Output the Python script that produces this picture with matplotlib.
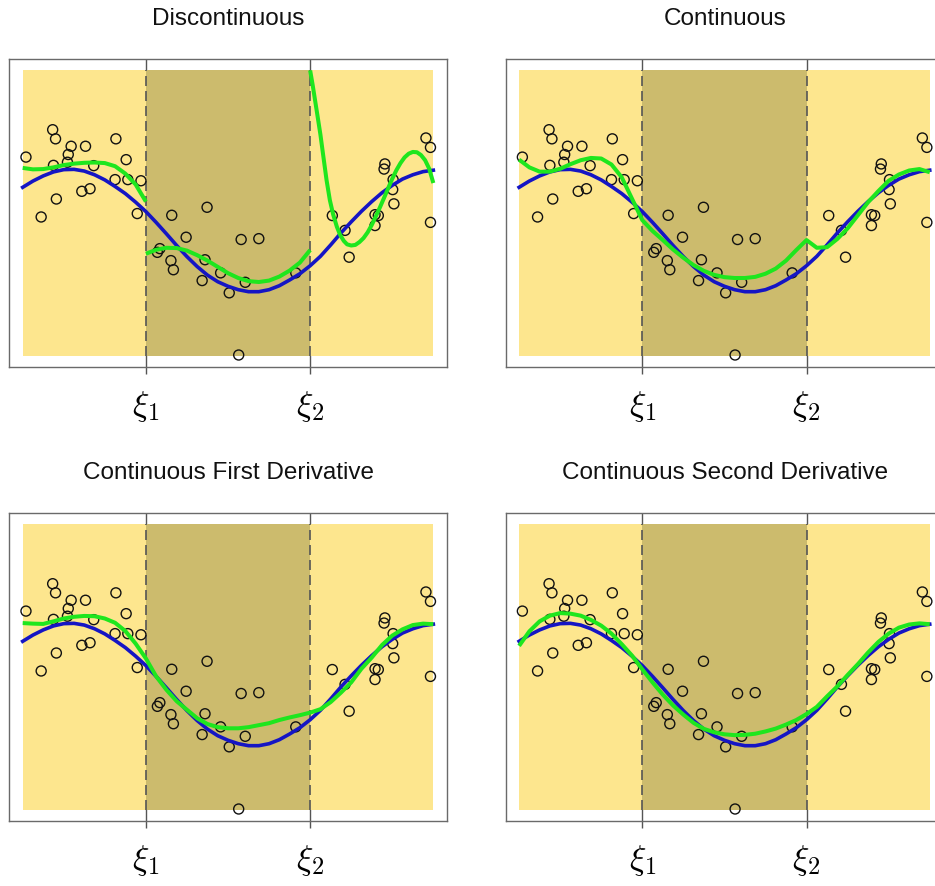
import matplotlib
matplotlib.use("Agg")
import matplotlib.pyplot as plt
from matplotlib.patches import Rectangle

plt.rcParams['mathtext.fontset'] = 'cm'

# ---------------- data ----------------
titles = ["Discontinuous", "Continuous",
          "Continuous First Derivative", "Continuous Second Derivative"]
knots = [0.3, 0.7]
knot_labels = [r"$\xi_1$", r"$\xi_2$"]

pts_x = [0.008, 0.045, 0.073, 0.080, 0.075, 0.082, 0.111, 0.109, 0.118, 0.153,
         0.173, 0.144, 0.164, 0.227, 0.252, 0.225, 0.256, 0.288, 0.279,
         0.334, 0.328, 0.363, 0.361, 0.367, 0.398, 0.449, 0.444, 0.437, 0.482,
         0.503, 0.532, 0.575, 0.542, 0.665, 0.526,
         0.754, 0.785, 0.795, 0.858, 0.866, 0.858, 0.882, 0.880, 0.902, 0.901,
         0.904, 0.982, 0.993, 0.993]
pts_y = [0.696, 0.486, 0.792, 0.760, 0.667, 0.549, 0.705, 0.678, 0.734, 0.734,
         0.666, 0.576, 0.585, 0.760, 0.687, 0.617, 0.617, 0.613, 0.498,
         0.375, 0.362, 0.492, 0.333, 0.301, 0.415, 0.520, 0.336, 0.263, 0.290,
         0.220, 0.407, 0.410, 0.257, 0.290, 0.002,
         0.491, 0.439, 0.345, 0.494, 0.491, 0.456, 0.672, 0.654, 0.617, 0.582,
         0.532, 0.763, 0.730, 0.467]

grid_x = [0.000, 0.025, 0.050, 0.075, 0.100, 0.125, 0.150, 0.175, 0.200, 0.225,
          0.250, 0.275, 0.300, 0.325, 0.350, 0.375, 0.400, 0.425, 0.450, 0.475,
          0.500, 0.525, 0.550, 0.575, 0.600, 0.625, 0.650, 0.675, 0.700, 0.725,
          0.750, 0.775, 0.800, 0.825, 0.850, 0.875, 0.900, 0.925, 0.950, 0.975,
          1.000]

true_y = [0.590, 0.612, 0.630, 0.644, 0.652, 0.653, 0.647, 0.634, 0.616, 0.593,
          0.568, 0.538, 0.505, 0.467, 0.427, 0.386, 0.347, 0.312, 0.282, 0.259,
          0.243, 0.231, 0.224, 0.224, 0.231, 0.245, 0.265, 0.287, 0.315, 0.348,
          0.388, 0.430, 0.469, 0.506, 0.540, 0.571, 0.597, 0.619, 0.634, 0.645,
          0.650]

# Discontinuous fit: three separate pieces
disc_x1 = [0.000, 0.025, 0.050, 0.075, 0.100, 0.125, 0.150, 0.175, 0.200, 0.225,
           0.250, 0.275, 0.300]
disc_y1 = [0.658, 0.653, 0.654, 0.660, 0.668, 0.673, 0.676, 0.677, 0.675, 0.664,
           0.638, 0.600, 0.540]
disc_x2 = [0.300, 0.325, 0.350, 0.375, 0.400, 0.425, 0.450, 0.475, 0.500, 0.525,
           0.550, 0.575, 0.600, 0.625, 0.650, 0.675, 0.700]
disc_y2 = [0.357, 0.371, 0.378, 0.377, 0.368, 0.352, 0.333, 0.311, 0.289, 0.272,
           0.261, 0.258, 0.263, 0.277, 0.298, 0.326, 0.370]
disc_x3 = [0.700, 0.706, 0.712, 0.718, 0.725, 0.732, 0.740, 0.748, 0.756, 0.765,
           0.773, 0.782, 0.790, 0.800, 0.810, 0.820, 0.830, 0.840, 0.850, 0.860,
           0.870, 0.880, 0.890, 0.900, 0.910, 0.920, 0.930, 0.940, 0.950, 0.960,
           0.970, 0.980, 0.990, 1.000]
disc_y3 = [1.000, 0.950, 0.895, 0.840, 0.775, 0.700, 0.615, 0.545, 0.495, 0.452,
           0.423, 0.402, 0.390, 0.386, 0.388, 0.398, 0.412, 0.432, 0.458, 0.488,
           0.520, 0.553, 0.587, 0.620, 0.650, 0.675, 0.695, 0.708, 0.714, 0.713,
           0.703, 0.685, 0.655, 0.605]

cont_y = [0.687, 0.660, 0.645, 0.645, 0.655, 0.671, 0.685, 0.693, 0.691, 0.670,
          0.625, 0.550, 0.475, 0.437, 0.405, 0.372, 0.343, 0.317, 0.297, 0.283,
          0.275, 0.272, 0.272, 0.276, 0.287, 0.305, 0.333, 0.370, 0.405, 0.378,
          0.380, 0.409, 0.446, 0.492, 0.538, 0.577, 0.613, 0.635, 0.649, 0.654,
          0.643]

d1_y = [0.654, 0.652, 0.651, 0.660, 0.670, 0.676, 0.679, 0.678, 0.670, 0.655,
        0.626, 0.582, 0.530, 0.467, 0.420, 0.380, 0.350, 0.320, 0.300, 0.289,
        0.285, 0.285, 0.289, 0.296, 0.303, 0.314, 0.323, 0.331, 0.340, 0.352,
        0.377, 0.410, 0.446, 0.494, 0.533, 0.577, 0.610, 0.632, 0.647, 0.652,
        0.650]

d2_y = [0.574, 0.625, 0.660, 0.680, 0.689, 0.687, 0.680, 0.665, 0.645, 0.617,
        0.580, 0.540, 0.492, 0.446, 0.403, 0.365, 0.333, 0.304, 0.283, 0.271,
        0.264, 0.261, 0.262, 0.266, 0.274, 0.284, 0.298, 0.314, 0.335, 0.360,
        0.397, 0.432, 0.472, 0.510, 0.551, 0.588, 0.617, 0.638, 0.649, 0.653,
        0.650]

fits = [
    [(disc_x1, disc_y1), (disc_x2, disc_y2), (disc_x3, disc_y3)],
    [(grid_x, cont_y)],
    [(grid_x, d1_y)],
    [(grid_x, d2_y)],
]

# ---------------- style ----------------
W, H = 935, 886
YELLOW = "#FDE68E"
DARK = "#CCBB6D"
BLUE = "#1515C4"
GREEN = "#1EE61E"
GRAY = "#555555"

fig = plt.figure(figsize=(W / 100, H / 100), dpi=100)

axw, axh = 438 / W, 308 / H
lefts = [9.3 / W, 505.7 / W]
bottoms = [(H - 366.7) / H, (H - 820.7) / H]

for i, title in enumerate(titles):
    r, c = divmod(i, 2)
    ax = fig.add_axes([lefts[c], bottoms[r], axw, axh])
    ax.set_xlim(-0.0326, 1.034)
    ax.set_ylim(-0.039, 1.041)

    # thin solid knot lines (visible in the white margin)
    for k in knots:
        ax.axvline(k, color=GRAY, lw=1.0, zorder=0.5)
    # regions
    ax.add_patch(Rectangle((0, 0), knots[0], 1, facecolor=YELLOW, edgecolor="none", zorder=1))
    ax.add_patch(Rectangle((knots[0], 0), knots[1] - knots[0], 1, facecolor=DARK, edgecolor="none", zorder=1))
    ax.add_patch(Rectangle((knots[1], 0), 1 - knots[1], 1, facecolor=YELLOW, edgecolor="none", zorder=1))
    for k in knots:
        ax.plot([k, k], [0, 1], color=GRAY, lw=1.2, ls=(0, (6, 3)), zorder=2)

    ax.scatter(pts_x, pts_y, s=52, facecolors="none", edgecolors="#111111",
               linewidths=1.0, zorder=3)
    ax.plot(grid_x, true_y, color=BLUE, lw=2.6, zorder=4, solid_joinstyle="round")
    for fx, fy in fits[i]:
        ax.plot(fx, fy, color=GREEN, lw=2.9, zorder=5, solid_capstyle="butt",
                solid_joinstyle="round")

    ax.set_yticks([])
    ax.set_xticks(knots)
    ax.set_xticklabels(knot_labels, fontsize=25)
    ax.tick_params(axis="x", length=5, width=1.0, color=GRAY, pad=11)
    for sp in ax.spines.values():
        sp.set_color("#6a6a6a")
        sp.set_linewidth(1.0)
    ax.set_title(title, fontsize=17.5, family=["Liberation Sans", "DejaVu Sans"],
                 pad=24, color="#111111")

fig.savefig("out.png", dpi=100)
